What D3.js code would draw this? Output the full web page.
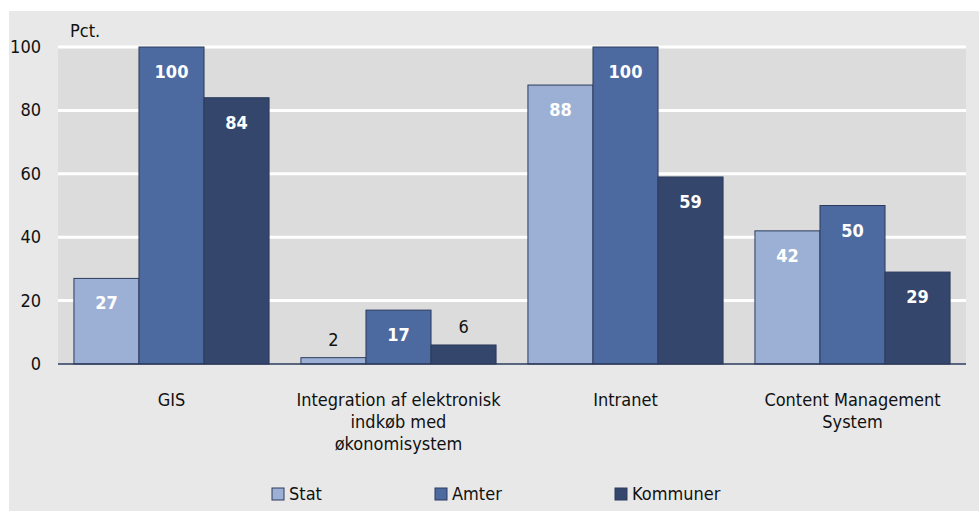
<!DOCTYPE html>
<html>
<head>
<meta charset="utf-8">
<script src="https://cdn.jsdelivr.net/npm/d3@7"></script>
<style>
  body { margin: 0; background: #fff; }
  text { font-family: "Liberation Sans Narrow", "DejaVu Sans Condensed", sans-serif; }
</style>
</head>
<body>
<div id="chart"></div>
<script>
var categories = [
  ["GIS"],
  ["Integration af elektronisk", "indkøb med", "økonomisystem"],
  ["Intranet"],
  ["Content Management", "System"]
];
var seriesNames = ["Stat", "Amter", "Kommuner"];
var stat = [27, 2, 88, 42];
var amter = [100, 17, 100, 50];
var kommuner = [84, 6, 59, 29];
var yTicks = [0, 20, 40, 60, 80, 100];

var colors = ["#9cb0d6", "#4d6aa0", "#34466b"];
var series = [stat, amter, kommuner];

var W = 979, H = 511;
var svg = d3.select("#chart").append("svg").attr("width", W).attr("height", H);

svg.append("rect").attr("x", 9).attr("y", 11).attr("width", W - 9).attr("height", H - 11)
  .attr("fill", "#e8e8e8");

var plotL = 58, plotR = 966, plotT = 47, plotB = 364;

var x0 = d3.scaleBand().domain(d3.range(categories.length)).range([plotL, plotR]);
var x1 = d3.scaleBand().domain(d3.range(seriesNames.length))
  .range([0, x0.bandwidth()]).paddingOuter(0.245);
var y = d3.scaleLinear().domain([0, 100]).range([plotB, plotT]);

svg.append("rect").attr("x", plotL).attr("y", plotT).attr("width", plotR - plotL)
  .attr("height", plotB - plotT).attr("fill", "#dcdcdc");

svg.selectAll(".grid").data(yTicks.filter(function(d) { return d > 0; }))
  .enter().append("line")
  .attr("x1", plotL).attr("x2", plotR)
  .attr("y1", function(d) { return y(d); }).attr("y2", function(d) { return y(d); })
  .attr("stroke", "#fff").attr("stroke-width", 3);

svg.selectAll(".ytick").data(yTicks).enter().append("text")
  .attr("x", 41).attr("y", function(d) { return y(d) + 6; })
  .attr("text-anchor", "end").attr("font-size", 18).attr("fill", "#111")
  .text(function(d) { return d; });

svg.append("text").attr("x", 70).attr("y", 37).attr("font-size", 18).attr("fill", "#111").text("Pct.");

var groups = svg.selectAll(".grp").data(categories).enter().append("g")
  .attr("transform", function(d, i) { return "translate(" + x0(i) + ",0)"; });

groups.each(function(c, i) {
  var g = d3.select(this);
  series.forEach(function(s, k) {
    var v = s[i];
    var bx = x1(k), bw = x1.bandwidth();
    g.append("rect")
      .attr("x", bx).attr("y", y(v)).attr("width", bw).attr("height", plotB - y(v))
      .attr("fill", colors[k]).attr("stroke", "#2c3b5c").attr("stroke-width", 1);
    var inside = plotB - y(v) > 35;
    g.append("text")
      .attr("x", bx + bw / 2)
      .attr("y", inside ? y(v) + 31 : y(v) - 12)
      .attr("text-anchor", "middle").attr("font-size", 18)
      .attr("font-weight", inside ? "bold" : "normal")
      .attr("fill", inside ? "#fff" : "#111")
      .text(v);
  });
  g.selectAll(".cat").data(c).enter().append("text")
    .attr("x", x0.bandwidth() / 2)
    .attr("y", function(d, j) { return 406 + j * 22; })
    .attr("text-anchor", "middle").attr("font-size", 18).attr("fill", "#111")
    .text(function(d) { return d; });
});

svg.append("line").attr("x1", plotL).attr("x2", plotR).attr("y1", plotB).attr("y2", plotB)
  .attr("stroke", "#2c3b5c").attr("stroke-width", 1.5);

var legendX = [272, 435, 615];
var legend = svg.selectAll(".leg").data(seriesNames).enter().append("g")
  .attr("transform", function(d, i) { return "translate(" + legendX[i] + ",488)"; });
legend.append("rect").attr("width", 12).attr("height", 12)
  .attr("fill", function(d, i) { return colors[i]; })
  .attr("stroke", "#2c3b5c").attr("stroke-width", 1);
legend.append("text").attr("x", 17).attr("y", 12).attr("font-size", 18).attr("fill", "#111")
  .text(function(d) { return d; });
</script>
</body>
</html>
